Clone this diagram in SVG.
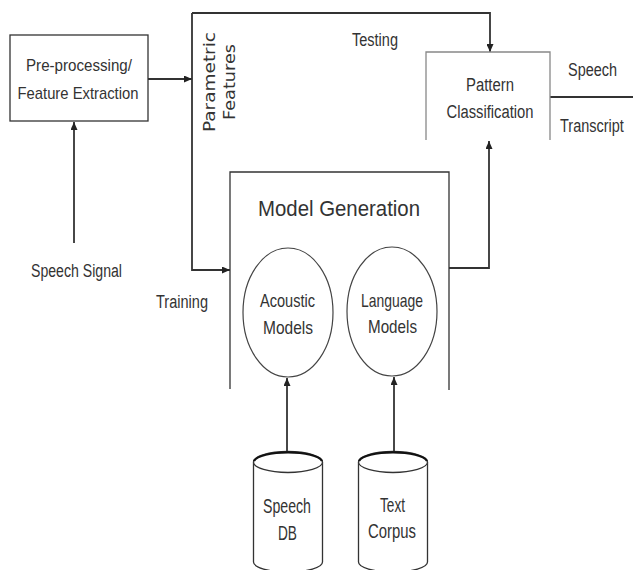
<svg xmlns="http://www.w3.org/2000/svg" width="633" height="570" viewBox="0 0 633 570">
  <defs>
    <marker id="arrow" markerUnits="userSpaceOnUse" markerWidth="8" markerHeight="7" refX="8" refY="3.5" orient="auto">
      <path d="M0,0 L8,3.5 L0,7 z" fill="#222"/>
    </marker>
    <style>
      text { font-family: "Liberation Sans", Arial, sans-serif; fill: #333; font-size: 18px; }
      .mid { text-anchor: middle; }
      .sm { font-size: 17px; }
      .md { font-size: 19px; }
      .lg { font-size: 20px; }
      .xs { font-size: 14.5px; }
      .title { font-size: 22px; }
      .rot { font-family: "DejaVu Sans", "Liberation Sans", sans-serif; font-size: 16px; text-anchor: middle; }
      .box { fill: none; stroke: #333; stroke-width: 1.3; }
      .lbox { fill: none; stroke: #888; stroke-width: 1.3; }
      .ell { fill: none; stroke: #444; stroke-width: 1.2; }
      .wire { fill: none; stroke: #333; stroke-width: 1.8; }
      .cyl { fill: #fff; stroke: #333; stroke-width: 1.3; }
    </style>
  </defs>

  <rect width="633" height="570" fill="#fff"/>

  <!-- connectors -->
  <g id="connectors">
    <path class="wire" d="M148,79 H192" marker-end="url(#arrow)"/>
    <path class="wire" d="M192,13 V270 H230" marker-end="url(#arrow)"/>
    <path class="wire" d="M192,13 H490 V52" marker-end="url(#arrow)"/>
    <path class="wire" d="M74,243 V122" marker-end="url(#arrow)"/>
    <path class="wire" d="M449,268 H489 V141" marker-end="url(#arrow)"/>
    <path class="wire" d="M550,97 H633"/>
    <path class="wire" d="M287,452 V378" marker-end="url(#arrow)"/>
    <path class="wire" d="M394,452 V377" marker-end="url(#arrow)"/>
  </g>

  <!-- edge labels -->
  <g id="labels">
    <text x="352" y="46" textLength="46" lengthAdjust="spacingAndGlyphs">Testing</text>
    <text x="156" y="308" textLength="52" lengthAdjust="spacingAndGlyphs">Training</text>
    <text x="31" y="277" textLength="91" lengthAdjust="spacingAndGlyphs">Speech Signal</text>
    <text x="568" y="76" textLength="49" lengthAdjust="spacingAndGlyphs">Speech</text>
    <text class="xs" transform="translate(560,132) scale(1,1.25)">Transcript</text>
    <text class="rot" transform="translate(215,82) rotate(-90)" textLength="100" lengthAdjust="spacingAndGlyphs">Parametric</text>
    <text class="rot" transform="translate(235,82) rotate(-90)" textLength="76" lengthAdjust="spacingAndGlyphs">Features</text>
  </g>

  <!-- pre-processing -->
  <g id="preprocessing">
    <rect class="box" x="10" y="35" width="138" height="86"/>
    <text class="mid sm" x="79" y="71" textLength="106" lengthAdjust="spacingAndGlyphs">Pre-processing/</text>
    <text class="mid sm" x="78" y="99" textLength="121" lengthAdjust="spacingAndGlyphs">Feature Extraction</text>
  </g>

  <!-- pattern classification (open at bottom) -->
  <g id="pattern-classification">
    <path class="lbox" d="M426,140 V52 H550 V140"/>
    <text class="mid" x="490" y="91" textLength="48" lengthAdjust="spacingAndGlyphs">Pattern</text>
    <text class="mid" x="490" y="118" textLength="87" lengthAdjust="spacingAndGlyphs">Classification</text>
  </g>

  <!-- model generation (open at bottom) -->
  <g id="model-generation">
    <path class="box" d="M230,389 V172 H449 V390"/>
    <text class="mid title" x="339" y="216" textLength="162" lengthAdjust="spacingAndGlyphs">Model Generation</text>
  </g>

  <g id="acoustic-models">
    <ellipse class="ell" cx="288" cy="312.5" rx="45" ry="64.5"/>
    <text class="mid md" x="287.5" y="307" textLength="55" lengthAdjust="spacingAndGlyphs">Acoustic</text>
    <text class="mid md" x="288" y="334" textLength="50" lengthAdjust="spacingAndGlyphs">Models</text>
  </g>

  <g id="language-models">
    <ellipse class="ell" cx="392" cy="311.5" rx="45" ry="64.5"/>
    <text class="mid md" x="392" y="307" textLength="62" lengthAdjust="spacingAndGlyphs">Language</text>
    <text class="mid md" x="392.5" y="333" textLength="49" lengthAdjust="spacingAndGlyphs">Models</text>
  </g>

  <!-- databases -->
  <g id="speech-db">
    <path class="cyl" d="M253.5,462 V562 A34.5,10 0 0 0 322.5,562 V462"/>
    <ellipse class="cyl" cx="288" cy="462" rx="34.5" ry="10.5"/>
    <path d="M254,461 A34.5,10.5 0 0 1 322,461" fill="none" stroke="#111" stroke-width="2.2"/>
    <text class="mid lg" x="287" y="513" textLength="48" lengthAdjust="spacingAndGlyphs">Speech</text>
    <text class="mid lg" x="287.5" y="540" textLength="19" lengthAdjust="spacingAndGlyphs">DB</text>
  </g>

  <g id="text-corpus">
    <path class="cyl" d="M358.5,462 V562 A34.5,10 0 0 0 427.5,562 V462"/>
    <ellipse class="cyl" cx="393" cy="462" rx="34.5" ry="10.5"/>
    <path d="M359,461 A34.5,10.5 0 0 1 427,461" fill="none" stroke="#111" stroke-width="2.2"/>
    <text class="mid lg" x="392.5" y="512" textLength="25" lengthAdjust="spacingAndGlyphs">Text</text>
    <text class="mid lg" x="392" y="538" textLength="48" lengthAdjust="spacingAndGlyphs">Corpus</text>
  </g>
</svg>
